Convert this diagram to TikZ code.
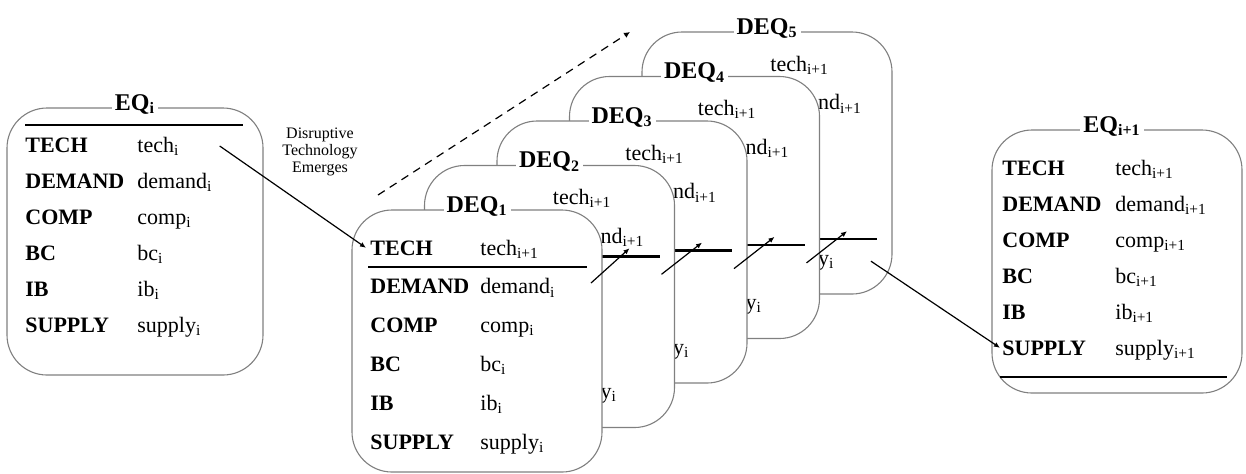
\documentclass[tikz,border=0pt]{standalone}
\usepackage{fontspec}
\setmainfont{Liberation Serif}
\usetikzlibrary{arrows.meta}
\newcommand{\idx}[1]{\textsubscript{#1}}

\tikzset{
  panel/.style={draw=black!50, line width=0.55pt, rounded corners=20pt, fill=white},
  paneltitle/.style={fill=white, inner xsep=1.5pt, inner ysep=0pt, font=\fontsize{12}{14}\selectfont\bfseries},
  key/.style={anchor=base west, inner sep=0pt, font=\fontsize{11}{13}\selectfont\bfseries},
  val/.style={anchor=base west, inner sep=0pt, font=\fontsize{11}{13}\selectfont},
  rule/.style={line width=1.2pt},
  flow/.style={line width=0.6pt, -{Latex[length=3pt,width=2.6pt]}},
  trend/.style={line width=0.6pt, dash pattern=on 4pt off 3pt, -{Latex[length=3pt,width=3pt]}},
}

\begin{document}
\begin{tikzpicture}[x=0.5pt, y=-0.5pt]
\useasboundingbox (0,0) rectangle (1246,473);

% equilibrium i
\draw[panel] (7,108) rectangle (263,375);
\node[paneltitle] (eqi) at (135,104) {EQ\idx{i}};
\draw[rule] (25,125) -- (243,125);
\foreach \rw/\lab/\val in {1/TECH/tech, 2/DEMAND/demand, 3/COMP/comp, 4/BC/bc, 5/IB/ib, 6/SUPPLY/supply} {
  \node[key] (eqi-k\rw) at (25,{152+36*(\rw-1)}) {\lab};
  \node[val] (eqi-v\rw) at (137,{152+36*(\rw-1)}) {\val\idx{i}};
}

% stages behind the front one: only what shows past the box in front
\foreach \st in {5,4,3,2} {
\begin{scope}[shift={({72.5*(\st-1)},{-44.5*(\st-1)})}]
  \draw[panel] (352,210) rectangle (602,472);
  \node[paneltitle] (dq\st) at (477,206) {DEQ\idx{\st}};
  \foreach \rw/\val in {1/tech, 2/demand} {
    \node[val] (dq\st-v\rw) at (480,{249+38.8*(\rw-1)}) {\val\idx{i+1}};
  }
  \node[val] (dq\st-v6) at (480,443) {supply\idx{i}};
  \draw[rule] (368,{262+38.8*(\st-1)}) -- (587,{262+38.8*(\st-1)});
  \coordinate (dq\st-in) at (557,{254+38.8*(\st-1)});
  \coordinate (dq\st-out) at (589,{280+38.8*(\st-1)});
\end{scope}
}

% front stage
\draw[panel] (352,210) rectangle (602,472);
\node[paneltitle] (dq1) at (477,206) {DEQ\idx{1}};
\foreach \rw/\lab/\val/\sb in {1/TECH/tech/i+1, 2/DEMAND/demand/i, 3/COMP/comp/i, 4/BC/bc/i, 5/IB/ib/i, 6/SUPPLY/supply/i} {
  \node[key] (dq1-k\rw) at (370,{255+38.8*(\rw-1)}) {\lab};
  \node[val] (dq1-v\rw) at (480,{255+38.8*(\rw-1)}) {\val\idx{\sb}};
}
\draw[rule] (368,267) -- (587,267);
\coordinate (dq1-out) at (591,283);

% equilibrium i+1
\draw[panel] (992,130) rectangle (1242,393);
\node[paneltitle] (eqn) at (1112,126) {EQ\idx{i+1}};
\foreach \rw/\lab/\val in {1/TECH/tech, 2/DEMAND/demand, 3/COMP/comp, 4/BC/bc, 5/IB/ib, 6/SUPPLY/supply} {
  \node[key] (eqn-k\rw) at (1002,{175+36*(\rw-1)}) {\lab};
  \node[val] (eqn-v\rw) at (1115,{175+36*(\rw-1)}) {\val\idx{i+1}};
}
\draw[rule] (1000,377) -- (1227,377);

% shock and propagation
\node[font=\fontsize{8}{8.5}\selectfont, align=center] (shock) at (320,152) {Disruptive\\Technology\\Emerges};
\draw[flow] ([xshift=20pt]eqi-v1.east) -- ([xshift=-2pt]dq1-k1.west);
\foreach \st/\nx in {1/2, 2/3, 3/4, 4/5}
  \draw[flow] (dq\st-out) -- (dq\nx-in);
\draw[flow] ([xshift=-4pt,yshift=-2pt]dq5-out) -- ([xshift=-1pt]eqn-k6.west);

\coordinate (tstart) at (378,195);
\coordinate (tend) at (630,32);
\draw[trend] (tstart) -- (tend);
\end{tikzpicture}
\end{document}
